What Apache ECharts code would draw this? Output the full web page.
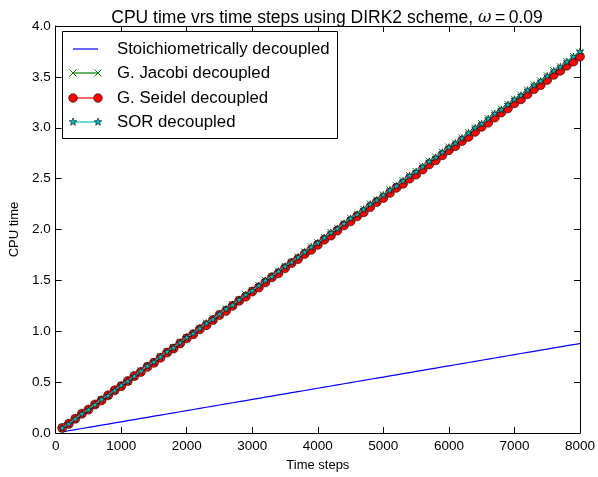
<!DOCTYPE html>
<html><head><meta charset="utf-8">
<script src="https://cdn.jsdelivr.net/npm/echarts@6/dist/echarts.min.js"></script>
<style>html,body{margin:0;padding:0;background:#fff}#c{width:598px;height:477px}</style>
</head><body><div id="c"></div>
<script>
var steps = [100,200,300,400,500,600,700,800,900,1000,1100,1200,1300,1400,1500,1600,1700,1800,1900,2000,2100,2200,2300,2400,2500,2600,2700,2800,2900,3000,3100,3200,3300,3400,3500,3600,3700,3800,3900,4000,4100,4200,4300,4400,4500,4600,4700,4800,4900,5000,5100,5200,5300,5400,5500,5600,5700,5800,5900,6000,6100,6200,6300,6400,6500,6600,6700,6800,6900,7000,7100,7200,7300,7400,7500,7600,7700,7800,7900,8000];
var stoich = [0.011,0.022,0.033,0.044,0.055,0.066,0.077,0.088,0.099,0.110,0.121,0.132,0.143,0.154,0.165,0.176,0.187,0.198,0.209,0.220,0.231,0.242,0.253,0.264,0.275,0.286,0.297,0.308,0.319,0.330,0.341,0.352,0.363,0.374,0.385,0.396,0.407,0.418,0.429,0.440,0.451,0.462,0.473,0.484,0.495,0.506,0.517,0.528,0.539,0.550,0.561,0.572,0.583,0.594,0.605,0.616,0.627,0.638,0.649,0.660,0.671,0.682,0.693,0.704,0.715,0.726,0.737,0.748,0.759,0.770,0.781,0.792,0.803,0.814,0.825,0.836,0.847,0.858,0.869,0.878];
var jacobi = [0.05,0.09,0.14,0.19,0.23,0.28,0.33,0.37,0.42,0.47,0.51,0.56,0.61,0.66,0.70,0.75,0.80,0.84,0.89,0.94,0.98,1.03,1.08,1.12,1.17,1.22,1.26,1.31,1.36,1.40,1.45,1.50,1.54,1.59,1.64,1.68,1.73,1.78,1.83,1.87,1.92,1.97,2.01,2.06,2.11,2.15,2.20,2.25,2.29,2.34,2.39,2.43,2.48,2.53,2.57,2.62,2.67,2.71,2.76,2.81,2.85,2.90,2.95,3.00,3.04,3.09,3.14,3.18,3.23,3.28,3.32,3.37,3.42,3.46,3.51,3.56,3.60,3.65,3.70,3.74];
var seidel = [0.05,0.09,0.14,0.19,0.23,0.28,0.32,0.37,0.42,0.46,0.51,0.56,0.60,0.65,0.69,0.74,0.79,0.83,0.88,0.93,0.97,1.02,1.06,1.11,1.16,1.20,1.25,1.30,1.34,1.39,1.43,1.48,1.53,1.57,1.62,1.67,1.71,1.76,1.80,1.85,1.90,1.94,1.99,2.04,2.08,2.13,2.17,2.22,2.27,2.31,2.36,2.41,2.45,2.50,2.54,2.59,2.64,2.68,2.73,2.78,2.82,2.87,2.91,2.96,3.01,3.05,3.10,3.15,3.19,3.24,3.28,3.33,3.38,3.42,3.47,3.52,3.56,3.61,3.65,3.70];
var sor = [0.05,0.09,0.14,0.19,0.23,0.28,0.33,0.37,0.42,0.47,0.51,0.56,0.61,0.66,0.70,0.75,0.80,0.84,0.89,0.94,0.98,1.03,1.08,1.12,1.17,1.22,1.26,1.31,1.36,1.40,1.45,1.50,1.54,1.59,1.64,1.68,1.73,1.78,1.83,1.87,1.92,1.97,2.01,2.06,2.11,2.15,2.20,2.25,2.29,2.34,2.39,2.43,2.48,2.53,2.57,2.62,2.67,2.71,2.76,2.81,2.85,2.90,2.95,3.00,3.04,3.09,3.14,3.18,3.23,3.28,3.32,3.37,3.42,3.46,3.51,3.56,3.60,3.65,3.70,3.75];
var names = ['Stoichiometrically decoupled','G. Jacobi decoupled','G. Seidel decoupled','SOR decoupled'];
var xTicks = {min:0, max:8000, interval:1000};
var yTicks = {min:0, max:4, interval:0.5};

function pairs(ys){ return steps.map(function(x,i){ return [x, ys[i]]; }); }
var FONT = '"Liberation Sans", Arial, sans-serif';
var starPath = 'path://M50,0 L61.8,35.3 L99,35.3 L69,57.3 L80.4,92.7 L50,70.8 L19.6,92.7 L31,57.3 L1,35.3 L38.2,35.3 Z';
var xPath = 'path://M0,0 L10,10 M10,0 L0,10';
var BLUE='#0000ff', GREEN='#008000', RED='#ff0000', CYAN='#00bfbf';

// legend drawn as graphic (matplotlib style: line with a marker at each end)
function starPts(cx, cy, R){
  var pts=[], r=R*0.42;
  for (var k=0;k<10;k++){
    var a = -Math.PI/2 + k*Math.PI/5, rr = (k%2===0)?R:r;
    pts.push([cx+rr*Math.cos(a), cy+rr*Math.sin(a)]);
  }
  return pts;
}
function marker(kind, cx, cy){
  if (kind==='x') return [
    {type:'line', shape:{x1:cx-3.5, y1:cy-3.5, x2:cx+3.5, y2:cy+3.5}, style:{stroke:GREEN, lineWidth:1}},
    {type:'line', shape:{x1:cx+3.5, y1:cy-3.5, x2:cx-3.5, y2:cy+3.5}, style:{stroke:GREEN, lineWidth:1}}];
  if (kind==='o') return [{type:'circle', shape:{cx:cx, cy:cy, r:4.3}, style:{fill:RED, stroke:'#000', lineWidth:0.6}}];
  return [{type:'polygon', shape:{points:starPts(cx,cy,4)}, style:{fill:CYAN, stroke:'#000', lineWidth:0.6}}];
}
var legRows = [{c:BLUE,m:null},{c:GREEN,m:'x'},{c:RED,m:'o'},{c:CYAN,m:'s'}];
var legY = [49, 73, 98, 122];
var legEls = [{type:'rect', shape:{x:62.5, y:31.5, width:275, height:107}, style:{fill:'#fff', stroke:'#000', lineWidth:1}}];
legRows.forEach(function(r,i){
  var y = legY[i];
  legEls.push({type:'line', shape:{x1:73, y1:y, x2:98, y2:y}, style:{stroke:r.c, lineWidth:1.2}});
  if (r.m){ legEls = legEls.concat(marker(r.m,73,y), marker(r.m,98,y)); }
  legEls.push({type:'text', x:117, y:y, style:{text:names[i], font:'16.8px '+FONT, fill:'#000', verticalAlign:'middle', align:'left'}});
});

var chart = echarts.init(document.getElementById('c'), null, {renderer:'canvas'});
var axisBase = {
  axisLine:{show:true, onZero:false, lineStyle:{color:'#000', width:1}},
  axisTick:{show:true, inside:true, length:6, lineStyle:{color:'#000'}},
  splitLine:{show:false}
};
chart.setOption({
  animation:false,
  backgroundColor:'#fff',
  title:{
    text:'{a|CPU time vrs time steps using DIRK2 scheme, }{i|ω}{a|\u2009=\u20090.09}',
    left:322, textAlign:'center', top:4,
    textStyle:{fontWeight:'normal', rich:{a:{fontFamily:FONT, fontSize:17.5, fontWeight:'normal', color:'#000'}, i:{fontFamily:'"DejaVu Serif", serif', fontStyle:'italic', fontWeight:'normal', fontSize:16.5, color:'#000'}}}
  },
  grid:{left:53, right:16, top:26, bottom:43, containLabel:false},
  xAxis:[
    Object.assign({type:'value', position:'bottom', min:xTicks.min, max:xTicks.max, interval:xTicks.interval,
      name:'Time steps', nameLocation:'middle', nameGap:26,
      nameTextStyle:{fontFamily:FONT, fontSize:13, color:'#000'},
      axisLabel:{fontFamily:FONT, fontSize:13.5, color:'#000', margin:6, formatter:function(v){return String(v);}}}, axisBase),
    Object.assign({type:'value', position:'top', min:xTicks.min, max:xTicks.max, interval:xTicks.interval,
      axisLabel:{show:false}}, axisBase)
  ],
  yAxis:[
    Object.assign({type:'value', position:'left', min:yTicks.min, max:yTicks.max, interval:yTicks.interval,
      name:'CPU time', nameLocation:'middle', nameGap:34,
      nameTextStyle:{fontFamily:FONT, fontSize:13, color:'#000'},
      axisLabel:{fontFamily:FONT, fontSize:13.5, color:'#000', margin:5, formatter:function(v){return v.toFixed(1);}}}, axisBase),
    Object.assign({type:'value', position:'right', min:yTicks.min, max:yTicks.max, interval:yTicks.interval,
      axisLabel:{show:false}}, axisBase)
  ],
  series:[
    {name:names[0], type:'line', data:pairs(stoich), showSymbol:false, symbol:'none',
      lineStyle:{color:BLUE, width:1.2}, itemStyle:{color:BLUE}, z:2},
    {name:names[1], type:'line', data:pairs(jacobi), symbol:xPath, symbolSize:7, showAllSymbol:true,
      lineStyle:{color:GREEN, width:1.2}, itemStyle:{color:'rgba(0,0,0,0)', borderColor:GREEN, borderWidth:1}, z:3},
    {name:names[2], type:'line', data:pairs(seidel), symbol:'circle', symbolSize:9, showAllSymbol:true,
      lineStyle:{color:RED, width:1.2}, itemStyle:{color:RED, borderColor:'#000', borderWidth:0.6}, z:4},
    {name:names[3], type:'line', data:pairs(sor), symbol:starPath, symbolSize:7, showAllSymbol:true,
      lineStyle:{color:CYAN, width:1.2}, itemStyle:{color:CYAN, borderColor:'#000', borderWidth:0.6}, z:5}
  ],
  graphic:[{type:'group', z:100, children:legEls}]
});
</script></body></html>
